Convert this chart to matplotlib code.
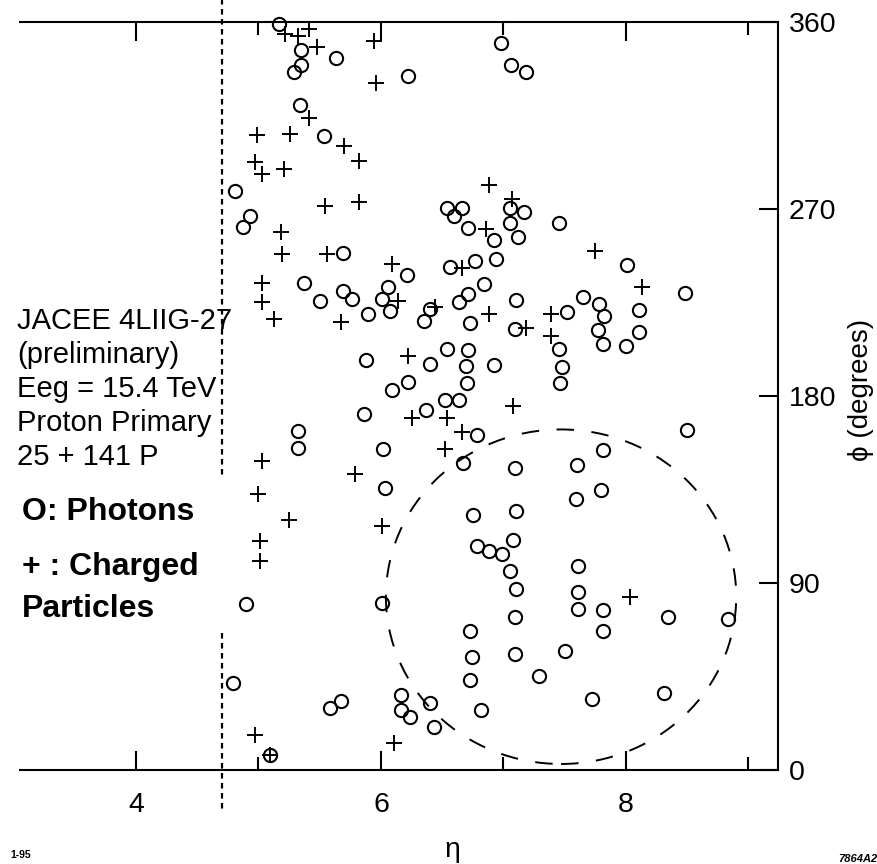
"""
JACEE 4LIIG-27 event: eta-phi map of photons and charged particles.
"""
import matplotlib

matplotlib.use("Agg")

import matplotlib.pyplot as plt
from matplotlib.patches import Ellipse

plt.rcParams["font.family"] = ["Liberation Sans", "DejaVu Sans"]

# ---------- data ----------
photon_eta = [
    5.17, 5.35, 5.35, 5.29, 5.63, 5.34, 5.535, 4.81, 4.93, 4.87, 5.69, 5.37, 5.50, 5.69,
    5.76, 5.89, 5.88, 6.06, 6.01, 6.07, 6.09,
    6.22, 6.98, 7.06, 7.18, 6.54, 6.66, 6.60, 6.71, 6.92, 7.05, 7.17, 7.05, 7.12, 7.45,
    6.21, 6.56, 6.77, 6.94, 6.84, 6.71, 6.64, 7.10, 6.40, 6.35, 6.73, 7.09, 7.52, 6.54,
    6.71, 6.40, 6.69, 6.92, 7.45, 7.48, 6.22, 6.70, 7.46,
    8.01, 8.48, 7.65, 7.78, 7.82, 7.77, 7.81, 8.00, 8.11, 8.11,
    5.86, 5.32, 5.32, 6.02, 6.03, 4.90, 6.01, 4.79, 5.58, 5.67, 5.09,
    6.37, 6.52, 6.64, 6.78, 6.67, 7.09, 7.60, 7.59, 6.75, 7.10, 6.78, 6.88, 6.99, 7.08,
    7.05, 7.10, 7.09, 6.73, 6.74, 6.73, 7.09, 7.50, 7.29, 6.82, 6.40, 6.43, 6.24, 6.16,
    6.16, 7.61, 7.61, 7.61,
    8.50, 7.81, 7.80, 7.81, 7.81, 8.34, 8.83, 7.72, 8.31,
]
photon_phi = [
    359.0, 346.6, 339.4, 336.1, 342.5, 320.0, 304.9, 278.6, 266.7, 261.5, 249.0, 234.2, 225.7, 230.4,
    226.8, 219.3, 197.1, 232.6, 226.5, 220.9, 183.1,
    333.8, 349.7, 339.4, 336.1, 270.5, 270.5, 266.4, 260.9, 255.1, 270.5, 268.6, 263.1, 256.7, 263.1,
    238.1, 242.1, 245.0, 246.1, 233.7, 228.9, 225.2, 226.0, 221.7, 216.1, 214.9, 212.4, 220.6, 202.4,
    201.9, 195.2, 194.4, 194.8, 202.4, 193.9, 186.7, 186.4, 186.4,
    242.9, 229.7, 227.6, 224.4, 218.5, 212.0, 205.2, 204.0, 221.2, 210.7,
    171.4, 163.0, 155.0, 154.6, 135.8, 79.9, 80.6, 41.8, 30.0, 33.3, 7.2,
    173.5, 178.3, 178.0, 161.0, 147.8, 145.4, 147.0, 130.6, 122.9, 124.8, 107.6, 105.2, 104.1, 110.5,
    95.9, 87.1, 73.6, 67.1, 54.3, 43.4, 55.9, 57.3, 45.4, 28.9, 32.4, 20.9, 25.7, 36.1,
    28.9, 98.0, 85.9, 77.4,
    163.5, 154.2, 134.9, 77.1, 66.7, 73.6, 72.6, 34.1, 37.0,
]

charged_eta = [
    5.41, 5.22, 5.32, 5.48, 5.94, 5.96, 5.41, 4.99, 5.26, 5.70, 5.82, 4.97, 5.03, 5.21,
    5.54, 5.82, 5.18, 5.19, 5.56, 6.09, 5.03, 5.03, 5.13, 5.67, 6.14,
    6.88, 7.07, 6.86, 6.66, 6.44, 6.88, 7.18, 7.39, 7.39, 6.22,
    7.75, 8.13,
    5.03, 5.00, 5.25, 5.01, 5.01, 5.79, 6.01, 4.97, 6.11, 5.09,
    6.25, 6.54, 6.66, 6.52, 7.08,
    8.03,
]
charged_phi = [
    356.6, 354.2, 353.4, 347.8, 351.0, 330.6, 313.6, 305.5, 306.0, 300.1, 292.9, 292.7, 286.7, 289.2,
    271.5, 273.6, 258.9, 248.2, 248.2, 243.7, 234.2, 225.2, 216.9, 215.6, 225.5,
    281.4, 275.0, 260.6, 241.8, 223.0, 219.3, 212.9, 219.6, 208.8, 199.2,
    249.8, 232.6,
    148.6, 132.9, 120.5, 110.0, 100.7, 142.5, 117.3, 16.9, 12.9, 7.2,
    169.5, 169.5, 162.6, 154.6, 175.1,
    83.5,
]

eta_ticks = [4, 6, 8]
eta_minor_ticks = [5, 7, 9]
phi_ticks = [0, 90, 180, 270, 360]

eta_cut = 4.70                  # dotted acceptance line
cone_center = (7.47, 83.4)      # dashed cluster circle
cone_size = (2.86, 161.0)       # full width in eta, full height in degrees

info_lines = [
    "JACEE 4LIIG-27",
    "(preliminary)",
    "Eeg = 15.4 TeV",
    "Proton Primary",
    "25 + 141 P",
]

# ---------- figure ----------
W, H = 878, 864
fig = plt.figure(figsize=(W / 100, H / 100), dpi=100)
ax = fig.add_axes([20 / W, 1 - 770 / H, 758 / W, 748 / H])

ax.plot(photon_eta, photon_phi, "o", mfc="none", mec="black", ms=9.5, mew=1.5,
        clip_on=False, zorder=3)
ax.plot(charged_eta, charged_phi, "+", color="black", ms=11, mew=1.4,
        clip_on=False, zorder=3)

ax.add_patch(Ellipse(cone_center, cone_size[0], cone_size[1], fill=False,
                     ec="black", lw=1.4, ls=(0, (9, 9)), clip_on=False))

for seg in ([371, 140], [66, -19]):
    ax.plot([eta_cut, eta_cut], seg, color="black", lw=1.6, ls=(0, (2.5, 2)),
            clip_on=False)

ax.set_xlim(3.053, 9.241)
ax.set_ylim(0, 360)

ax.spines["left"].set_visible(False)
for s in ("top", "bottom", "right"):
    ax.spines[s].set_linewidth(1.5)

ax.set_xticks(eta_ticks)
ax.set_xticks(eta_minor_ticks, minor=True)
ax.set_xticklabels([str(t) for t in eta_ticks])
ax.tick_params(axis="x", which="major", direction="in", length=14, width=1.5,
               top=True, bottom=True, labelsize=20.5, pad=16)
ax.tick_params(axis="x", which="minor", direction="in", length=9.5, width=1.5,
               top=True, bottom=True)

ax.yaxis.tick_right()
ax.set_yticks(phi_ticks)
ax.set_yticklabels([str(t) for t in phi_ticks])
ax.tick_params(axis="y", direction="in", length=14, width=1.5, left=False,
               right=True, labelleft=False, labelright=True, labelsize=20.5, pad=8)

fig.text(452 / W, 1 - 850 / H, "η", ha="center", va="center", fontsize=20.5)
fig.text(861 / W, 1 - 390 / H, "ϕ (degrees)", rotation=90, ha="center",
         va="center", fontsize=20)

for i, line in enumerate(info_lines):
    baseline = 329 + i * 34
    fig.text(17 / W, 1 - baseline / H, line, ha="left", va="baseline", fontsize=21)

fig.text(22 / W, 1 - 520 / H, "O: Photons", ha="left", va="baseline",
         fontsize=23, fontweight="bold")
fig.text(22 / W, 1 - 575 / H, "+ : Charged", ha="left", va="baseline",
         fontsize=23, fontweight="bold")
fig.text(22 / W, 1 - 617 / H, "Particles", ha="left", va="baseline",
         fontsize=23, fontweight="bold")

fig.text(10 / W, 1 - 858 / H, "1-95", ha="left", va="baseline", fontsize=7.5,
         fontweight="bold")
fig.text(838 / W, 1 - 862 / H, "7864A2", ha="left", va="baseline", fontsize=8,
         fontweight="bold", style="italic")

fig.savefig("out.png", dpi=100)
